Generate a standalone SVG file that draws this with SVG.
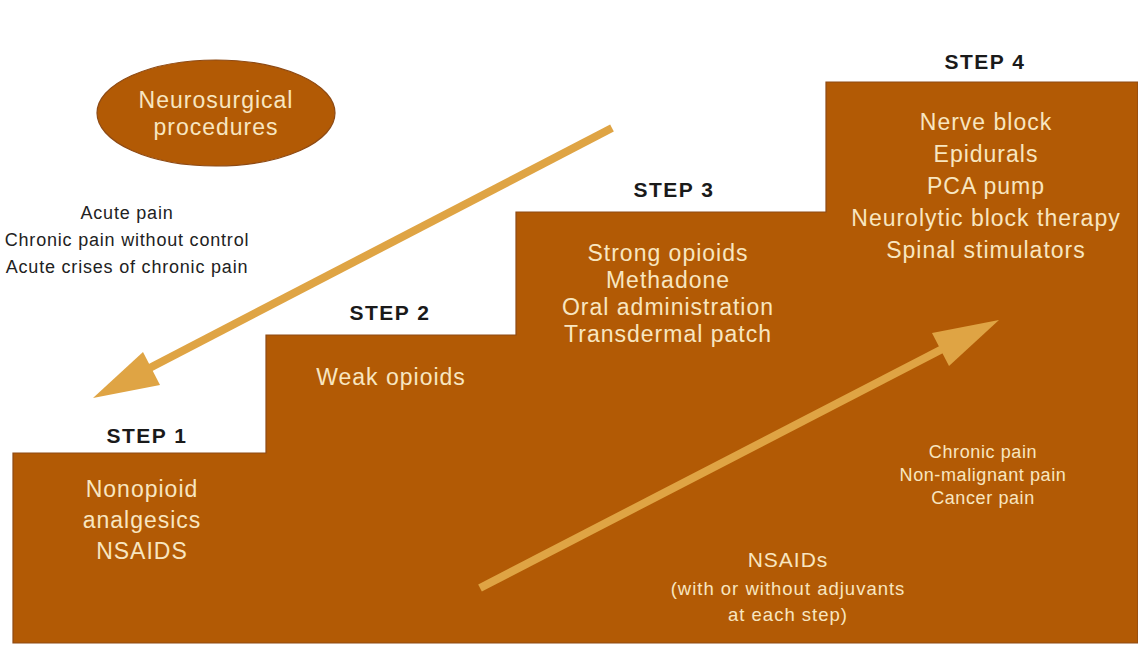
<svg xmlns="http://www.w3.org/2000/svg" width="1138" height="646" viewBox="0 0 1138 646">
<style>
.stair{fill:#B25A05;stroke:#8E4A14;stroke-width:1.2}
.arrow{fill:#DFA444}
.shaft{stroke:#DFA444;stroke-width:8;fill:none}
.lbl{font-family:"Liberation Sans",Arial,sans-serif;text-anchor:middle}
.step{font-size:21px;font-weight:bold;fill:#1a1a1a;letter-spacing:1.5px}
.dark{font-size:18px;fill:#222;letter-spacing:0.8px}
.cream{fill:#F8E6C0}
.big{font-size:23px;letter-spacing:1px}
.mid{font-size:21px;letter-spacing:1px}
.small{font-size:18px;letter-spacing:0.6px}
.paren{font-size:18.5px;letter-spacing:1px}
</style>
<rect width="1138" height="646" fill="#ffffff"/>
<g id="stairs">
<path class="stair" d="M13,453 H266 V335 H516 V212 H826 V82 H1138 V643 H13 Z"/>
</g>
<g id="neurosurgical">
<ellipse cx="216" cy="113" rx="119" ry="53" fill="#B25A05" stroke="#8E4A14" stroke-width="1.2"/>
<text class="lbl cream big" x="216" y="108">Neurosurgical</text>
<text class="lbl cream big" x="216" y="135">procedures</text>
</g>
<g id="acute">
<text class="lbl dark" x="127" y="219">Acute pain</text>
<text class="lbl dark" x="127" y="246">Chronic pain without control</text>
<text class="lbl dark" x="127" y="273">Acute crises of chronic pain</text>
</g>
<g id="step1">
<text class="lbl step" x="147" y="443">STEP 1</text>
<text class="lbl cream big" x="142" y="497">Nonopioid</text>
<text class="lbl cream big" x="142" y="528">analgesics</text>
<text class="lbl cream big" x="142" y="559">NSAIDS</text>
</g>
<g id="step2">
<text class="lbl step" x="390" y="320">STEP 2</text>
<text class="lbl cream big" x="391" y="385">Weak opioids</text>
</g>
<g id="step3">
<text class="lbl step" x="674" y="197">STEP 3</text>
<text class="lbl cream big" x="668" y="261">Strong opioids</text>
<text class="lbl cream big" x="668" y="288">Methadone</text>
<text class="lbl cream big" x="668" y="315">Oral administration</text>
<text class="lbl cream big" x="668" y="342">Transdermal patch</text>
</g>
<g id="step4">
<text class="lbl step" x="985" y="69">STEP 4</text>
<text class="lbl cream big" x="986" y="130">Nerve block</text>
<text class="lbl cream big" x="986" y="162">Epidurals</text>
<text class="lbl cream big" x="986" y="194">PCA pump</text>
<text class="lbl cream big" x="986" y="226">Neurolytic block therapy</text>
<text class="lbl cream big" x="986" y="258">Spinal stimulators</text>
</g>
<g id="chronic">
<text class="lbl cream small" x="983" y="458">Chronic pain</text>
<text class="lbl cream small" x="983" y="481">Non-malignant pain</text>
<text class="lbl cream small" x="983" y="504">Cancer pain</text>
</g>
<g id="nsaids">
<text class="lbl cream mid" x="788" y="567">NSAIDs</text>
<text class="lbl cream paren" x="788" y="595">(with or without adjuvants</text>
<text class="lbl cream paren" x="788" y="621">at each step)</text>
</g>
<g id="connectors">
<line class="shaft" x1="612" y1="128" x2="140" y2="373"/>
<polygon class="arrow" points="93,398 143,352 160,385"/>
<line class="shaft" x1="480" y1="588" x2="952" y2="344"/>
<polygon class="arrow" points="999,320 949,366 932,333"/>
</g>
</svg>
